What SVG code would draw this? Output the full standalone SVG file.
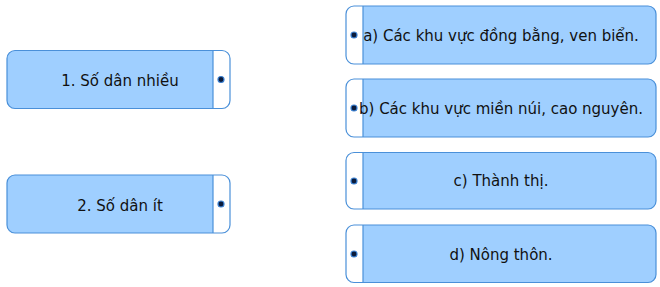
<svg xmlns="http://www.w3.org/2000/svg" width="660" height="287" viewBox="0 0 660 287">
<style>
.box{fill:none;stroke:#4a90d9;stroke-width:1.2}
.fill{fill:#9fcfff}
.div{stroke:#4a90d9;stroke-width:1.2}
.dot{fill:#0a1a3a;stroke:#3a7fd0;stroke-width:1.2}
.t{font-family:"DejaVu Sans",sans-serif;font-size:15px;fill:#111;text-anchor:middle}
</style>
<g id="left1">
<path class="fill" d="M15,50.5 H213 V108.5 H15 A8,8 0 0 1 7,100.5 V58.5 A8,8 0 0 1 15,50.5 Z"/>
<rect class="box" x="7" y="50.5" width="223" height="58" rx="8"/>
<line class="div" x1="213" y1="50.5" x2="213" y2="108.5"/>
<circle class="dot" cx="221" cy="79.5" r="3"/>
<text class="t" x="120" y="86">1. Số dân nhiều</text>
</g>
<g id="left2">
<path class="fill" d="M15,175 H213 V233 H15 A8,8 0 0 1 7,225 V183 A8,8 0 0 1 15,175 Z"/>
<rect class="box" x="7" y="175" width="223" height="58" rx="8"/>
<line class="div" x1="213" y1="175" x2="213" y2="233"/>
<circle class="dot" cx="221" cy="204" r="3"/>
<text class="t" x="120" y="211">2. Số dân ít</text>
</g>
<g id="ra">
<path class="fill" d="M363,6 H648 A8,8 0 0 1 656,14 V56 A8,8 0 0 1 648,64 H363 Z"/>
<rect class="box" x="346" y="6" width="310" height="58" rx="8"/>
<line class="div" x1="363" y1="6" x2="363" y2="64"/>
<circle class="dot" cx="354" cy="35" r="3"/>
<text class="t" x="501" y="41">a) Các khu vực đồng bằng, ven biển.</text>
</g>
<g id="rb">
<path class="fill" d="M363,79 H648 A8,8 0 0 1 656,87 V129 A8,8 0 0 1 648,137 H363 Z"/>
<rect class="box" x="346" y="79" width="310" height="58" rx="8"/>
<line class="div" x1="363" y1="79" x2="363" y2="137"/>
<circle class="dot" cx="354" cy="108" r="3"/>
<text class="t" x="501" y="113.5">b) Các khu vực miền núi, cao nguyên.</text>
</g>
<g id="rc">
<path class="fill" d="M363,152.5 H648 A8,8 0 0 1 656,160.5 V201 A8,8 0 0 1 648,209 H363 Z"/>
<rect class="box" x="346" y="152.5" width="310" height="56.5" rx="8"/>
<line class="div" x1="363" y1="152.5" x2="363" y2="209"/>
<circle class="dot" cx="354" cy="181" r="3"/>
<text class="t" x="501" y="186">c) Thành thị.</text>
</g>
<g id="rd">
<path class="fill" d="M363,225 H648 A8,8 0 0 1 656,233 V274.5 A8,8 0 0 1 648,282.5 H363 Z"/>
<rect class="box" x="346" y="225" width="310" height="57.5" rx="8"/>
<line class="div" x1="363" y1="225" x2="363" y2="282.5"/>
<circle class="dot" cx="354" cy="254" r="3"/>
<text class="t" x="501" y="260">d) Nông thôn.</text>
</g>
<g id="connectors"></g>
</svg>
